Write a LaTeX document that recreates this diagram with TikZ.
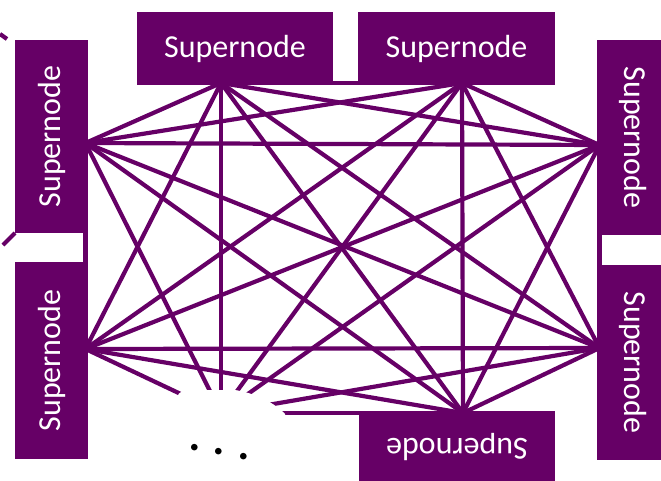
\documentclass[tikz,border=0pt]{standalone}
\usepackage{fontspec}
\setmainfont{Carlito}
\definecolor{sn}{RGB}{102,0,102}
\begin{document}
\begin{tikzpicture}[x=1pt,y=-1pt,
  box/.style={fill=sn, text=white, inner sep=0pt, font=\fontsize{32}{38}\selectfont},
  link/.style={draw=sn, line width=4.2pt}]
\useasboundingbox (0,0) rectangle (661,481);
\clip (0,0) rectangle (661,481);
% hubs
\coordinate (TL) at (221,83);
\coordinate (TR) at (462,83);
\coordinate (LT) at (85.5,143);
\coordinate (LB) at (85.5,349);
\coordinate (RT) at (599.5,145);
\coordinate (RB) at (599.5,348);
\coordinate (BR) at (463,413);
\coordinate (H) at (221,413);
% full mesh
\foreach \a/\b in {TL/TR,TL/LT,TL/LB,TL/RT,TL/RB,TL/BR,TL/H,
                   TR/LT,TR/LB,TR/RT,TR/RB,TR/BR,TR/H,
                   LT/LB,LT/RT,LT/RB,LT/BR,LT/H,
                   LB/RT,LB/RB,LB/BR,LB/H,
                   RT/RB,RT/BR,RT/H,
                   RB/BR,RB/H,
                   BR/H}
  \draw[link] (\a) -- (\b);
% stray fragments
\coordinate (f1a) at (0,34); \coordinate (f1b) at (7,39);
\coordinate (f2a) at (3,245); \coordinate (f2b) at (15,233);
\draw[link] (f1a) -- (f1b);
\draw[link] (f2a) -- (f2b);
% white cover with dots
\fill[white] (176,402) .. controls (178,393) .. (186,390) -- (235,390)
  .. controls (255,393) and (275,403) .. (285,414) -- (292,481) -- (176,481) -- cycle;
\node[rotate=-10, font=\fontsize{44}{50}\selectfont\bfseries, inner sep=0pt] (dots) at (219,452) {. . .};
% supernodes
\node[box, minimum width=196, minimum height=73] (nTL) at (235,48.5) {Supernode};
\node[box, minimum width=197, minimum height=73] (nTR) at (456.5,48.5) {Supernode};
\node[box, rotate=90, minimum width=193, minimum height=73] (nLT) at (51.5,136.5) {Supernode};
\node[box, rotate=90, minimum width=197, minimum height=73] (nLB) at (51.5,360.5) {Supernode};
\node[box, rotate=-90, minimum width=195, minimum height=73] (nRT) at (633.5,137.5) {Supernode};
\node[box, rotate=-90, minimum width=195, minimum height=73] (nRB) at (633.5,362.5) {Supernode};
\node[box, rotate=180, minimum width=196, minimum height=73] (nBR) at (457,447.5) {Supernode};
\end{tikzpicture}
\end{document}
